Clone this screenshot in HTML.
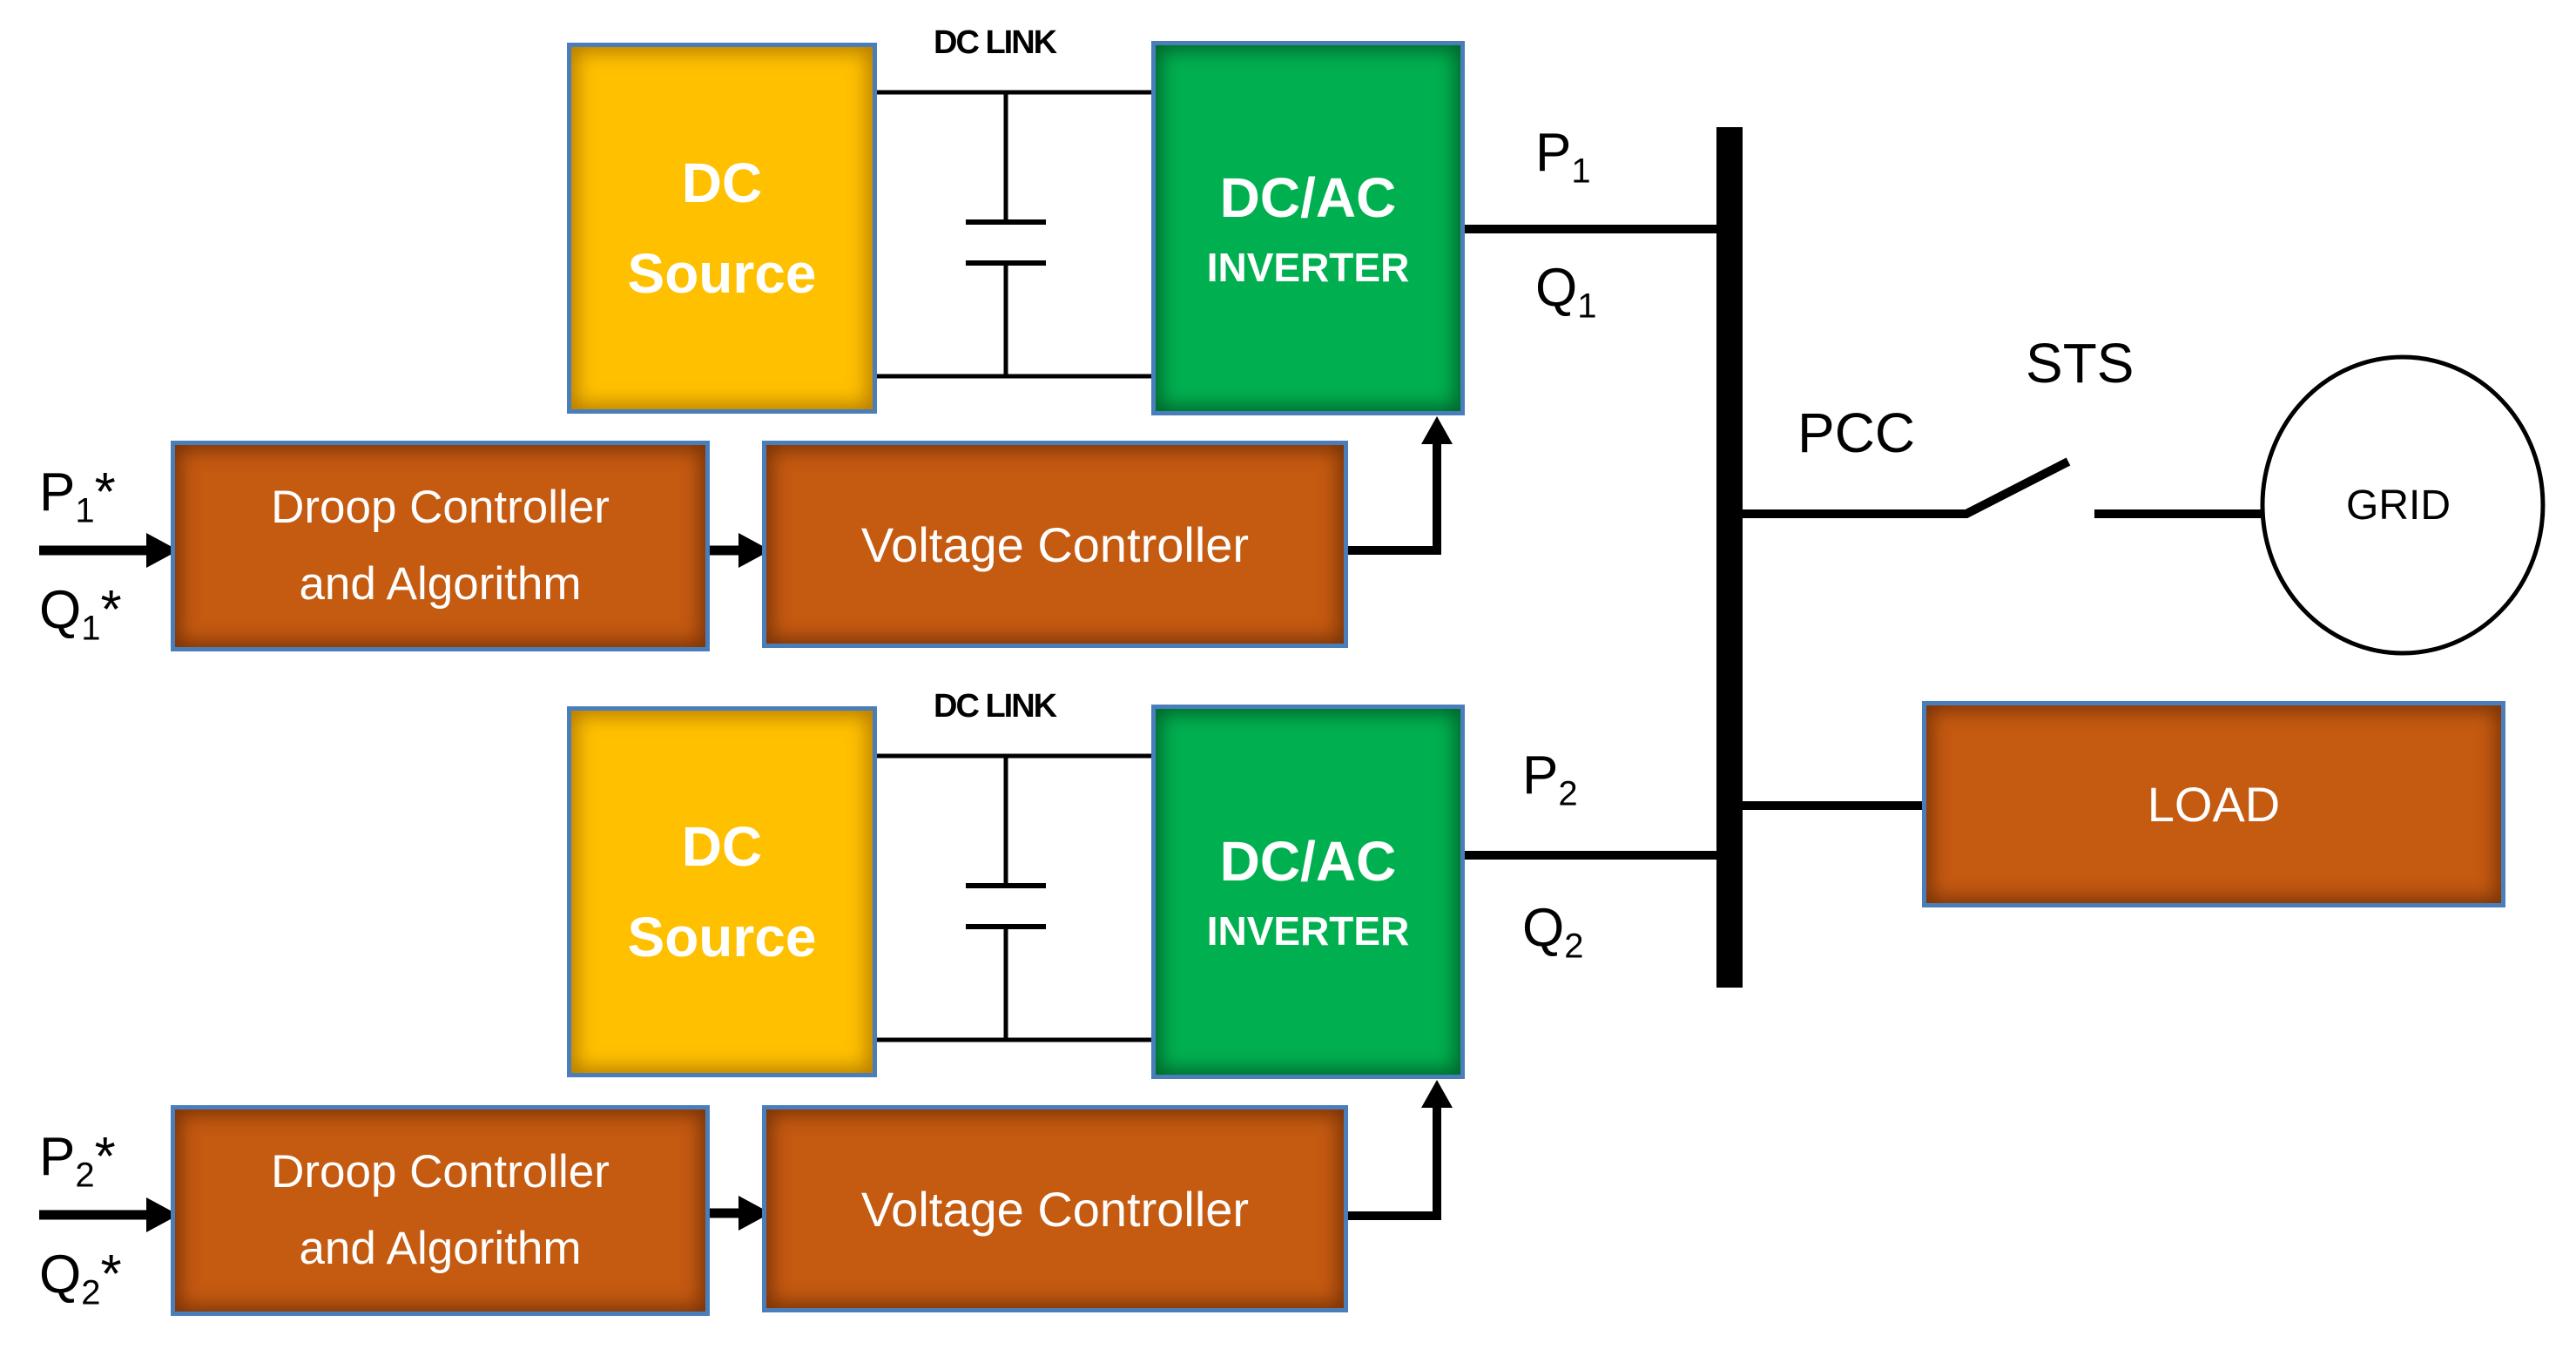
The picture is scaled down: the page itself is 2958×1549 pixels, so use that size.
<!DOCTYPE html>
<html><head><meta charset="utf-8"><style>
html,body{margin:0;padding:0;background:#fff;}
body{width:2958px;height:1549px;position:relative;overflow:hidden;font-family:"Liberation Sans",sans-serif;}
.b{position:absolute;box-sizing:border-box;border:5px solid #4a7ebb;display:flex;flex-direction:column;align-items:center;justify-content:center;color:#fff;text-align:center;}
.y{background:#ffc000;box-shadow:inset 0 0 22px 6px rgba(120,70,0,0.55);}
.g{background:#00b050;box-shadow:inset 0 0 22px 6px rgba(0,50,20,0.6);}
.o{background:#c55a11;box-shadow:inset 0 0 22px 6px rgba(70,25,0,0.6);}
.t{position:absolute;color:#000;white-space:nowrap;}
</style></head><body>
<svg width="2958" height="1549" style="position:absolute;left:0;top:0" xmlns="http://www.w3.org/2000/svg">
<g stroke="#000" fill="none">
<!-- DC link 1 -->
<line x1="1005" y1="106" x2="1322" y2="106" stroke-width="5"/>
<line x1="1005" y1="432" x2="1322" y2="432" stroke-width="5"/>
<line x1="1155" y1="106" x2="1155" y2="255" stroke-width="5"/>
<line x1="1155" y1="302" x2="1155" y2="432" stroke-width="5"/>
<line x1="1109" y1="255" x2="1201" y2="255" stroke-width="6"/>
<line x1="1109" y1="302" x2="1201" y2="302" stroke-width="6"/>
<!-- DC link 2 -->
<line x1="1005" y1="868" x2="1322" y2="868" stroke-width="5"/>
<line x1="1005" y1="1194" x2="1322" y2="1194" stroke-width="5"/>
<line x1="1155" y1="868" x2="1155" y2="1017" stroke-width="5"/>
<line x1="1155" y1="1064" x2="1155" y2="1194" stroke-width="5"/>
<line x1="1109" y1="1017" x2="1201" y2="1017" stroke-width="6"/>
<line x1="1109" y1="1064" x2="1201" y2="1064" stroke-width="6"/>
<!-- outputs -->
<line x1="1680" y1="263" x2="1975" y2="263" stroke-width="10"/>
<line x1="1680" y1="982" x2="1975" y2="982" stroke-width="10"/>
<!-- bus -->
<rect x="1971" y="146" width="30" height="988" fill="#000" stroke="none"/>
<!-- switch -->
<polyline points="2000,590 2258,590 2375,530" stroke-width="10"/>
<line x1="2405" y1="590" x2="2598" y2="590" stroke-width="10"/>
<ellipse cx="2759" cy="580" rx="161" ry="170" stroke-width="5"/>
<!-- load line -->
<line x1="2000" y1="925" x2="2210" y2="925" stroke-width="10"/>
<!-- arrows group 1 -->
<line x1="45" y1="632" x2="175" y2="632" stroke-width="11"/>
<line x1="813" y1="632" x2="855" y2="632" stroke-width="11"/>
<polyline points="1547,632 1650,632 1650,505" stroke-width="10"/>
<!-- arrows group 2 -->
<line x1="45" y1="1395" x2="175" y2="1395" stroke-width="11"/>
<line x1="813" y1="1393" x2="855" y2="1393" stroke-width="11"/>
<polyline points="1547,1396 1650,1396 1650,1267" stroke-width="10"/>
</g>
<g fill="#000">
<polygon points="168,612 205,632 168,652"/>
<polygon points="848,612 885,632 848,652"/>
<polygon points="1632,510 1650,478 1668,510"/>
<polygon points="168,1375 205,1395 168,1415"/>
<polygon points="848,1373 885,1393 848,1413"/>
<polygon points="1632,1272 1650,1240 1668,1272"/>
</g>
</svg>

<div class="t" style="left:1072px;top:28px;font-size:38px;font-weight:bold;letter-spacing:-2px;">DC LINK</div>
<div class="t" style="left:1072px;top:790px;font-size:38px;font-weight:bold;letter-spacing:-2px;">DC LINK</div>

<div class="b y" style="left:651px;top:49px;width:356px;height:426px;font-weight:bold;font-size:64px;line-height:104px;"><div>DC</div><div>Source</div></div>
<div class="b g" style="left:1322px;top:47px;width:360px;height:430px;font-weight:bold;"><div style="font-size:64px;line-height:90px;">DC/AC</div><div style="font-size:46px;line-height:70px;">INVERTER</div></div>
<div class="b o" style="left:196px;top:506px;width:619px;height:242px;font-size:53px;line-height:88px;"><div>Droop Controller</div><div>and Algorithm</div></div>
<div class="b o" style="left:875px;top:506px;width:673px;height:238px;font-size:56px;">Voltage Controller</div>

<div class="b y" style="left:651px;top:811px;width:356px;height:426px;font-weight:bold;font-size:64px;line-height:104px;"><div>DC</div><div>Source</div></div>
<div class="b g" style="left:1322px;top:809px;width:360px;height:430px;font-weight:bold;"><div style="font-size:64px;line-height:90px;">DC/AC</div><div style="font-size:46px;line-height:70px;">INVERTER</div></div>
<div class="b o" style="left:196px;top:1269px;width:619px;height:242px;font-size:53px;line-height:88px;"><div>Droop Controller</div><div>and Algorithm</div></div>
<div class="b o" style="left:875px;top:1269px;width:673px;height:238px;font-size:56px;">Voltage Controller</div>

<div class="b o" style="left:2207px;top:805px;width:670px;height:237px;font-size:56px;">LOAD</div>

<div class="t" style="left:45px;top:530px;font-size:62px;">P<sub style="font-size:40px">1</sub>*</div>
<div class="t" style="left:45px;top:665px;font-size:62px;">Q<sub style="font-size:40px">1</sub>*</div>
<div class="t" style="left:45px;top:1293px;font-size:62px;">P<sub style="font-size:40px">2</sub>*</div>
<div class="t" style="left:45px;top:1428px;font-size:62px;">Q<sub style="font-size:40px">2</sub>*</div>

<div class="t" style="left:1763px;top:140px;font-size:62px;">P<sub style="font-size:40px">1</sub></div>
<div class="t" style="left:1763px;top:295px;font-size:62px;">Q<sub style="font-size:40px">1</sub></div>
<div class="t" style="left:1748px;top:855px;font-size:62px;">P<sub style="font-size:40px">2</sub></div>
<div class="t" style="left:1748px;top:1030px;font-size:62px;">Q<sub style="font-size:40px">2</sub></div>

<div class="t" style="left:2064px;top:460px;font-size:64px;">PCC</div>
<div class="t" style="left:2326px;top:380px;font-size:64px;">STS</div>
<div class="t" style="left:2694px;top:553px;font-size:48px;">GRID</div>
</body></html>
